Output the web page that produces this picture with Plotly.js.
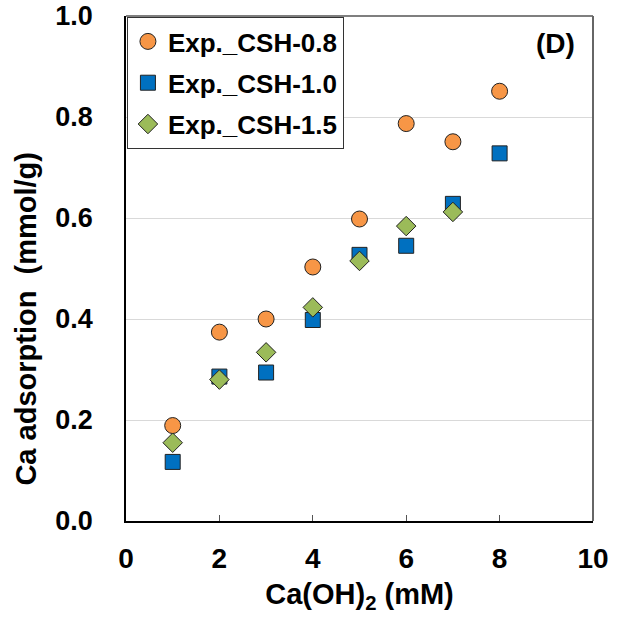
<!DOCTYPE html>
<html>
<head>
<meta charset="utf-8">
<script src="https://cdn.plot.ly/plotly-3.0.1.min.js"></script>
<style>html,body{margin:0;padding:0;background:#fff;}#chart{width:622px;height:620px;}</style>
</head>
<body>
<div id="chart"></div>
<script>
const xValues = [1, 2, 3, 4, 5, 6, 7, 8];
const csh08 = [0.189, 0.374, 0.400, 0.503, 0.598, 0.787, 0.751, 0.851];
const csh10 = [0.117, 0.286, 0.294, 0.398, 0.527, 0.545, 0.628, 0.728];
const xValues15 = [1, 2, 3, 4, 5, 6, 7];
const csh15 = [0.155, 0.280, 0.334, 0.423, 0.515, 0.584, 0.612];
const seriesNames = ["Exp._CSH-0.8", "Exp._CSH-1.0", "Exp._CSH-1.5"];
const xTicks = [0, 2, 4, 6, 8, 10];
const yTicks = [0, 0.2, 0.4, 0.6, 0.8, 1.0];
const yTickText = ["0.0", "0.2", "0.4", "0.6", "0.8", "1.0"];

const FONT = "Liberation Sans, Arial, sans-serif";
const mk = (color, symbol, size) => ({color, symbol, size, line: {color: "#222", width: 1}});

const traces = [
  {x: xValues, y: csh08, name: seriesNames[0], type: "scatter", mode: "markers", legendgroup: "a", marker: mk("#F79646", "circle", 16)},
  {x: xValues, y: csh10, name: seriesNames[1], type: "scatter", mode: "markers", legendgroup: "b", marker: mk("#0070C0", "square", 15)},
  {x: xValues15, y: csh15, name: seriesNames[2], type: "scatter", mode: "markers", legendgroup: "c", marker: mk("#9BBB59", "diamond", 15)}
];

const layout = {
  width: 622, height: 620,
  margin: {l: 126, r: 29, t: 16, b: 99},
  paper_bgcolor: "#fff", plot_bgcolor: "#fff",
  font: {family: FONT, size: 27, color: "#000", weight: "bold"},
  showlegend: true,
  legend: {x: 0.002, y: 0.998, xanchor: "left", yanchor: "top", bgcolor: "#fff", bordercolor: "#333", borderwidth: 1,
           font: {family: FONT, size: 26, color: "#000", weight: "bold"}, tracegroupgap: 4.5, itemwidth: 30},
  xaxis: {range: [0, 10], tickvals: xTicks, ticktext: xTicks.map(String), showgrid: false, zeroline: false,
          showline: true, linecolor: "#000", linewidth: 1.5, ticks: "inside", ticklen: 6, tickcolor: "#555",
          ticklabelstandoff: 12,
          tickfont: {family: FONT, size: 28, weight: "bold"},
          title: {text: "Ca(OH)<sub>2</sub> (mM)", font: {family: FONT, size: 29, weight: "bold"}, standoff: 10}},
  yaxis: {range: [0, 1], tickvals: yTicks, ticktext: yTickText, showgrid: true, gridcolor: "#d9d9d9", gridwidth: 1, zeroline: false,
          showline: true, linecolor: "#000", linewidth: 1.5, ticks: "outside", ticklen: 26, tickcolor: "rgba(0,0,0,0)",
          tickfont: {family: FONT, size: 27, weight: "bold"}},
  shapes: [
    {type: "line", xref: "paper", yref: "paper", x0: 0, x1: 1, y0: 1, y1: 1, line: {color: "#555", width: 1.5}},
    {type: "line", xref: "paper", yref: "paper", x0: 1, x1: 1, y0: 0, y1: 1, line: {color: "#666", width: 2}}
  ],
  annotations: [
    {text: "(D)", xref: "paper", yref: "paper", x: 0.965, y: 0.945, xanchor: "right", yanchor: "middle", showarrow: false,
     font: {family: FONT, size: 28, weight: "bold"}},
    {text: "Ca adsorption&nbsp;&nbsp;(mmol/g)", xref: "paper", yref: "paper", x: -0.215, y: 0.40, xanchor: "center", yanchor: "middle",
     textangle: -90, showarrow: false, font: {family: FONT, size: 29, weight: "bold"}}
  ]
};

Plotly.newPlot("chart", traces, layout, {displayModeBar: false, responsive: false});
</script>
</body>
</html>
